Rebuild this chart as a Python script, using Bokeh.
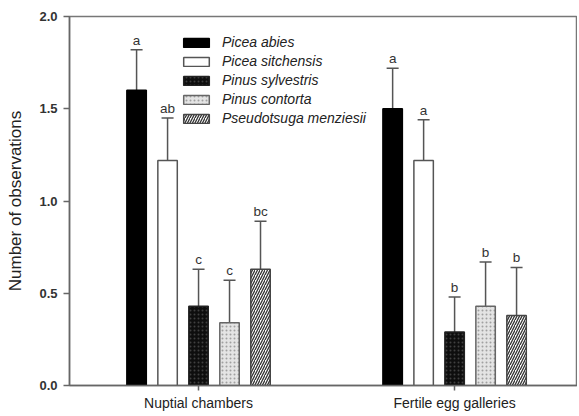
from bokeh.plotting import figure
from bokeh.models import Range1d, ColumnDataSource, Whisker, TeeHead, Legend, LegendItem, FixedTicker
from bokeh.core.properties import value
from bokeh.embed import file_html
from bokeh.resources import INLINE

# ---- data ----
groups = ["Nuptial chambers", "Fertile egg galleries"]
species = ["Picea abies", "Picea sitchensis", "Pinus sylvestris", "Pinus contorta", "Pseudotsuga menziesii"]
nuptial_mean = [1.60, 1.22, 0.43, 0.34, 0.63]
nuptial_err = [0.22, 0.23, 0.20, 0.23, 0.26]
fertile_mean = [1.50, 1.22, 0.29, 0.43, 0.38]
fertile_err = [0.22, 0.22, 0.19, 0.24, 0.26]
nuptial_letters = ["a", "ab", "c", "c", "bc"]
fertile_letters = ["a", "a", "b", "b", "b"]
y_ticks = [0.0, 0.5, 1.0, 1.5, 2.0]

# ---- styles ----
PITCH = 0.121
BAR_W = 0.076
styles = [
    dict(fill_color="black", line_color="black", hatch_pattern=None, hatch_color="black"),
    dict(fill_color="white", line_color="#555555", hatch_pattern=None, hatch_color="black"),
    dict(fill_color="#0e0e0e", line_color="#222222", hatch_pattern="dot", hatch_color="#404040"),
    dict(fill_color="#e4e4e4", line_color="#666666", hatch_pattern="dot", hatch_color="#a0a0a0"),
    dict(fill_color="white", line_color="#444444", hatch_pattern="right_diagonal_line", hatch_color="#333333"),
]

FONT = "Liberation Sans"

p = figure(frame_width=508, frame_height=369, output_backend="svg", toolbar_location=None,
           x_range=Range1d(0.496, 2.480), y_range=Range1d(0, 2.0),
           min_border_left=69, min_border_right=0, min_border_top=16, min_border_bottom=30)
p.background_fill_color = "white"
p.grid.visible = False
p.outline_line_color = "#777777"
p.outline_line_width = 1.5

legend_items = []
for i, sp in enumerate(species):
    xs = [g + 1 + (i - 2) * PITCH for g in range(len(groups))]
    means = [nuptial_mean[i], fertile_mean[i]]
    errs = [nuptial_err[i], fertile_err[i]]
    uppers = [m + e for m, e in zip(means, errs)]
    letters = [nuptial_letters[i], fertile_letters[i]]
    src = ColumnDataSource(dict(x=xs, top=means, upper=uppers, letters=letters))
    st = styles[i]
    kw = dict(fill_color=st["fill_color"], line_color=st["line_color"], line_width=1.5)
    if st["hatch_pattern"]:
        kw.update(hatch_pattern=st["hatch_pattern"], hatch_color=st["hatch_color"],
                  hatch_scale=4 if st["hatch_pattern"] == "dot" else 5,
                  hatch_weight=1.0 if st["hatch_pattern"] == "dot" else 1.3)
    r = p.vbar(x="x", top="top", bottom=0, width=BAR_W, source=src, **kw)
    legend_items.append(LegendItem(label=sp, renderers=[r]))
    w = Whisker(base="x", lower="top", upper="upper", source=src, dimension="height",
                line_color="#555555", line_width=1.5,
                upper_head=TeeHead(size=12, line_color="#555555", line_width=1.5), lower_head=None,
                level="underlay")
    p.add_layout(w)
    p.text(x="x", y="upper", text="letters", source=src, text_align="center", text_baseline="bottom",
           y_offset=-2, text_font=value(FONT), text_font_size="13.5px", text_color="#333333")

legend = Legend(items=legend_items, location=(111, 259))
legend.border_line_color = None
legend.background_fill_alpha = 0
legend.glyph_width = 32
legend.glyph_height = 11
legend.label_height = 16
legend.spacing = 3
legend.padding = 0
legend.margin = 0
legend.label_standoff = 10
legend.label_text_font = FONT
legend.label_text_font_size = "14px"
legend.label_text_font_style = "italic"
legend.label_text_color = "#222222"
p.add_layout(legend)

# y axis
ya = p.yaxis[0]
ya.ticker = FixedTicker(ticks=y_ticks)
ya.minor_tick_line_color = None
ya.major_tick_out = 6
ya.major_tick_in = 0
ya.major_label_standoff = 6
ya.axis_line_color = "#666666"
ya.axis_line_width = 1.5
ya.major_tick_line_color = "#666666"
ya.major_tick_line_width = 1.5
ya.major_label_overrides = {t: f"{t:.1f}" for t in y_ticks}
ya.major_label_text_font = FONT
ya.major_label_text_font_size = "13px"
ya.major_label_text_font_style = "bold"
ya.major_label_text_color = "#333333"
ya.axis_label = "Number of observations"
ya.axis_label_text_font = FONT
ya.axis_label_text_font_size = "17px"
ya.axis_label_text_font_style = "normal"
ya.axis_label_text_color = "#222222"
ya.axis_label_standoff = 11

# x axis
xa = p.xaxis[0]
xa.ticker = FixedTicker(ticks=[1, 2])
xa.major_label_overrides = {1: groups[0], 2: groups[1]}
xa.minor_tick_line_color = None
xa.major_tick_out = 5
xa.major_tick_in = 0
xa.major_label_standoff = 4
xa.axis_line_color = "#666666"
xa.axis_line_width = 1.5
xa.major_tick_line_color = "#666666"
xa.major_tick_line_width = 1.5
xa.major_label_text_font = FONT
xa.major_label_text_font_size = "14px"
xa.major_label_text_color = "#222222"

open("out.html", "w").write(file_html(p, INLINE))
